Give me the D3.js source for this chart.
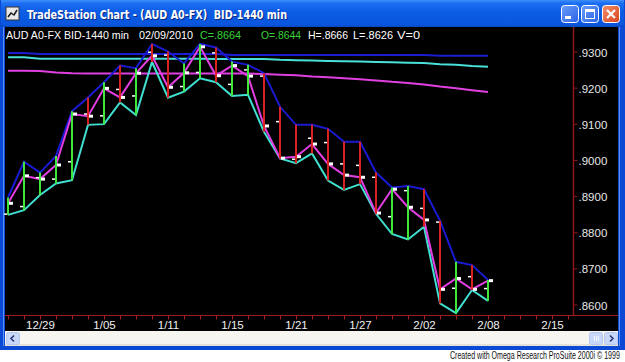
<!DOCTYPE html>
<html>
<head>
<meta charset="utf-8">
<script src="https://cdn.jsdelivr.net/npm/d3@7"></script>
<style>
  html, body { margin: 0; padding: 0; background: #fff; overflow: hidden; }
  svg { display: block; }
  text { font-family: "Liberation Sans", Arial, sans-serif; }
</style>
</head>
<body>
<div id="chart"></div>
<script>
// daily bars of AUD A0-FX (bar 0 .. bar 30)
const opens  = [.8850, .8871, .8951, .8947, .8995, .9127, .9122, .9195, .9177, .9298, .9290,
                .9203, .9242, .9296, .9209, .9249, .9232, .9106, .9002, .9060, .9048,
                .8989, .8985, .8952, .8843, .8915, .8866, .8828, .8645, .8677, .8644];
const highs  = [.8896, .8995, .8965, .9011, .9135, .9173, .9215, .9261, .9254, .9321, .9300,
                .9267, .9321, .9311, .9272, .9263, .9240, .9147, .9097, .9097, .9086,
                .9050, .9050, .8965, .8924, .8928, .8919, .8832, .8718, .8709, .8668];
const lows   = [.8848, .8861, .8903, .8935, .8944, .9097, .9099, .9159, .9124, .9271, .9172,
                .9189, .9226, .9215, .9177, .9180, .9078, .9004, .8991, .9018, .8943,
                .8917, .8933, .8851, .8795, .8780, .8815, .8603, .8576, .8640, .8610];
const closes = [.8880, .8956, .8947, .8986, .9127, .9121, .9198, .9173, .9240, .9288, .9201,
                .9241, .9313, .9233, .9261, .9232, .9094, .9005, .9009, .9044, .8989,
                .8958, .8952, .8853, .8919, .8869, .8834, .8642, .8672, .8642, .8666];
// paint bar colour, 1 = green, 0 = red
const paint  = [1, 1, 1, 1, 1, 0, 1, 0, 1, 0, 0, 1, 1, 0, 1, 1, 0, 0, 0, 0, 0,
                0, 0, 0, 1, 1, 0, 0, 1, 0, 1];

// slow averages of high, low and close
const avgHigh  = [.9296, .9296, .9293, .9293, .9293, .9293, .9293, .9293, .9293, .9293, .9293,
                  .9293, .9293, .9293, .9290, .9290, .9290, .9290, .9290, .9290, .9290,
                  .9290, .9290, .9290, .9290, .9290, .9290, .9288, .9288, .9288, .9288];
const avgLow   = [.9284, .9284, .9280, .9280, .9280, .9280, .9280, .9280, .9280, .9280, .9280,
                  .9280, .9280, .9279, .9279, .9279, .9279, .9277, .9276, .9275, .9274,
                  .9273, .9272, .9271, .9270, .9269, .9268, .9265, .9263, .9260, .9258];
const avgClose = [.9247, .9247, .9246, .9242, .9240, .9239, .9239, .9239, .9239, .9239, .9239,
                  .9239, .9239, .9239, .9239, .9239, .9238, .9236, .9234, .9231, .9229,
                  .9226, .9223, .9220, .9216, .9213, .9209, .9203, .9198, .9193, .9188];

const priceTicks = [.86, .87, .88, .89, .90, .91, .92, .93];
const dateTicks = ["12/29", "1/05", "1/11", "1/15", "1/21", "1/27", "2/02", "2/08", "2/15"];
const dateTickBars = [2, 6, 10, 14, 18, 22, 26, 30, 34];

const quote = [
  { t: "AUD A0-FX BID-1440 min", c: "#fff" },
  { t: "02/09/2010", c: "#fff" },
  { t: "C=.8664", c: "#3ad23a" },
  { t: "O=.8644", c: "#3ad23a" },
  { t: "H=.8666", c: "#fff" },
  { t: "L=.8626", c: "#fff" },
  { t: "V=0", c: "#fff" }
];

const width = 625, height = 362;
const svg = d3.select("#chart").append("svg").attr("width", width).attr("height", height);

// ---- window frame ----
const defs = svg.append("defs");
const tg = defs.append("linearGradient").attr("id", "title").attr("x1", 0).attr("y1", 0).attr("x2", 0).attr("y2", 1);
[["0%", "#3f8ff8"], ["12%", "#1c6ef2"], ["45%", "#0c5ce4"], ["90%", "#0a56de"], ["100%", "#0848c6"]]
  .forEach(([o, c]) => tg.append("stop").attr("offset", o).attr("stop-color", c));
const bg = defs.append("linearGradient").attr("id", "btn").attr("x1", 0).attr("y1", 0).attr("x2", 1).attr("y2", 1);
bg.append("stop").attr("offset", "0%").attr("stop-color", "#6a9ef8");
bg.append("stop").attr("offset", "100%").attr("stop-color", "#2a62e8");
const cg = defs.append("linearGradient").attr("id", "cls").attr("x1", 0).attr("y1", 0).attr("x2", 1).attr("y2", 1);
cg.append("stop").attr("offset", "0%").attr("stop-color", "#f0906c");
cg.append("stop").attr("offset", "100%").attr("stop-color", "#d8431c");

svg.append("rect").attr("width", width).attr("height", height).attr("fill", "#fff");
svg.append("rect").attr("x", 0).attr("y", 0).attr("width", width).attr("height", 350).attr("fill", "#0a48d6");
svg.append("rect").attr("x", 1).attr("y", 0).attr("width", width - 2).attr("height", 27).attr("fill", "url(#title)");
svg.append("rect").attr("x", 3).attr("y", 27).attr("width", 1).attr("height", 319).attr("fill", "#5a8ef0");
svg.append("rect").attr("x", 619).attr("y", 27).attr("width", 1).attr("height", 319).attr("fill", "#5a8ef0");

// icon
const icon = svg.append("g").attr("transform", "translate(6,7)");
icon.append("rect").attr("width", 13).attr("height", 13).attr("fill", "#e8e8e8").attr("stroke", "#333").attr("stroke-width", 1);
icon.append("path").attr("d", "M2,10 L5,6 L8,8 L11,3").attr("fill", "none").attr("stroke", "#1a1a1a").attr("stroke-width", 1.5);

svg.append("text").attr("x", 28).attr("y", 20).attr("fill", "#0a2a80")
  .style("font-family", "'DejaVu Sans', sans-serif").style("font-weight", "bold").style("font-size", "12.5px")
  .style("white-space", "pre").attr("textLength", 260).attr("lengthAdjust", "spacingAndGlyphs")
  .text("TradeStation Chart - (AUD A0-FX)  BID-1440 min");
svg.append("text").attr("x", 27).attr("y", 19).attr("fill", "#fff")
  .style("font-family", "'DejaVu Sans', sans-serif").style("font-weight", "bold").style("font-size", "12.5px")
  .style("white-space", "pre").attr("textLength", 260).attr("lengthAdjust", "spacingAndGlyphs")
  .text("TradeStation Chart - (AUD A0-FX)  BID-1440 min");

// caption buttons
const buttons = [{ x: 561, kind: "min" }, { x: 581, kind: "max" }, { x: 602, kind: "close" }];
buttons.forEach((b) => {
  const g = svg.append("g").attr("transform", `translate(${b.x},5)`);
  g.append("rect").attr("x", 0.5).attr("y", 0.5).attr("width", 17).attr("height", 17).attr("rx", 3)
    .attr("fill", b.kind === "close" ? "url(#cls)" : "url(#btn)").attr("stroke", "#fff").attr("stroke-width", 1);
  if (b.kind === "min") {
    g.append("rect").attr("x", 4).attr("y", 11).attr("width", 6).attr("height", 3).attr("fill", "#fff");
  } else if (b.kind === "max") {
    g.append("rect").attr("x", 4.5).attr("y", 4.5).attr("width", 9).attr("height", 9)
      .attr("fill", "none").attr("stroke", "#fff").attr("stroke-width", 1);
    g.append("rect").attr("x", 4).attr("y", 4).attr("width", 10).attr("height", 3).attr("fill", "#fff");
  } else {
    g.append("path").attr("d", "M5,5 L13,13 M13,5 L5,13").attr("stroke", "#fff").attr("stroke-width", 2.2);
  }
});

// ---- chart area ----
svg.append("rect").attr("x", 5).attr("y", 27).attr("width", 613).attr("height", 304).attr("fill", "#000");

const qPos = [6, 139, 200, 261, 308, 353, 397];
const qLen = [123, 54, 41, 40, 40, 40, 23];
quote.forEach((q, i) => {
  svg.append("text").attr("x", qPos[i]).attr("y", 39).attr("fill", q.c)
    .style("font-size", "11.5px").attr("textLength", qLen[i]).attr("lengthAdjust", "spacingAndGlyphs")
    .text(q.t);
});

const x = d3.scaleLinear().domain([0, 35]).range([8, 568]);
const y = d3.scaleLinear().domain([0.86, 0.93]).range([304.5, 51.5]);
const bars = d3.range(opens.length);

// price axis
svg.append("line").attr("x1", 573.5).attr("x2", 573.5).attr("y1", 27).attr("y2", 315)
  .attr("stroke", "#8e1616").attr("stroke-width", 1.5);
const yAxis = svg.append("g").attr("transform", "translate(573.5,0)")
  .call(d3.axisRight(y).tickValues(priceTicks).tickSize(4).tickPadding(1)
    .tickFormat((d) => d3.format(".4f")(d).slice(1)));
yAxis.select(".domain").remove();
yAxis.selectAll("line").attr("stroke", "#8e1616");
yAxis.selectAll("text").attr("fill", "#e6e6e6").style("font-size", "11.5px")
  .style("font-family", "'Liberation Sans', Arial, sans-serif").attr("dy", "0.4em");

// date axis
svg.append("line").attr("x1", 5).attr("x2", 618).attr("y1", 315.5).attr("y2", 315.5)
  .attr("stroke", "#a51c1c").attr("stroke-width", 1);
const xAxis = svg.append("g").attr("transform", "translate(0,315.5)")
  .call(d3.axisBottom(x).tickValues(d3.range(0, 36)).tickSize(4).tickPadding(1)
    .tickFormat((i) => { const k = dateTickBars.indexOf(i); return k < 0 ? "" : dateTicks[k]; }));
xAxis.select(".domain").remove();
xAxis.selectAll("line").attr("stroke", "#a51c1c");
xAxis.selectAll("text").attr("fill", "#f0f0f0").style("font-size", "11.5px")
  .style("font-family", "'Liberation Sans', Arial, sans-serif");

// slow averages
const line = (arr) => d3.line().x((i) => x(i)).y((i) => y(arr[i]))(bars);
const plot = svg.append("g");
plot.append("path").attr("d", line(avgHigh)).attr("fill", "none").attr("stroke", "#1c1cd0").attr("stroke-width", 2);
plot.append("path").attr("d", line(avgLow)).attr("fill", "none").attr("stroke", "#48e0d8").attr("stroke-width", 2);
plot.append("path").attr("d", line(avgClose)).attr("fill", "none").attr("stroke", "#e040e0").attr("stroke-width", 2);

// high / low / close lines
plot.append("path").attr("d", line(highs)).attr("fill", "none").attr("stroke", "#1a1ad2").attr("stroke-width", 2);
plot.append("path").attr("d", line(lows)).attr("fill", "none").attr("stroke", "#40e0d0").attr("stroke-width", 2);
plot.append("path").attr("d", line(closes)).attr("fill", "none").attr("stroke", "#e23ee2").attr("stroke-width", 2);

// painted bars
plot.selectAll(".bar").data(bars).enter().append("line").attr("class", "bar")
  .attr("x1", (i) => x(i)).attr("x2", (i) => x(i))
  .attr("y1", (i) => y(highs[i])).attr("y2", (i) => y(lows[i]))
  .attr("stroke", (i) => (paint[i] ? "#3ee63e" : "#d82222")).attr("stroke-width", 2);

// open / close ticks
plot.selectAll(".open").data(bars).enter().append("rect").attr("class", "open")
  .attr("x", (i) => x(i) - 4).attr("y", (i) => y(opens[i]) - 0.75)
  .attr("width", 3).attr("height", 1.5).attr("fill", "#fff");
plot.selectAll(".close").data(bars).enter().append("rect").attr("class", "close")
  .attr("x", (i) => x(i) + 1).attr("y", (i) => y(closes[i]) - 1.5)
  .attr("width", 4).attr("height", 3).attr("fill", "#fff");

// ---- scroll bar ----
svg.append("rect").attr("x", 5).attr("y", 331).attr("width", 613).attr("height", 14).attr("fill", "#f6f5f0");
svg.append("rect").attr("x", 5).attr("y", 344).attr("width", 613).attr("height", 2).attr("fill", "#e4e2d8");
const sb = [{ x: 6, kind: "left" }, { x: 589, kind: "thumb" }, { x: 604, kind: "right" }];
sb.forEach((b) => {
  const g = svg.append("g").attr("transform", `translate(${b.x},332)`);
  g.append("rect").attr("x", 0.5).attr("y", 0.5).attr("width", 13).attr("height", 12).attr("rx", 2)
    .attr("fill", "#c8d6f8").attr("stroke", "#b4c6f0");
  if (b.kind === "left") {
    g.append("path").attr("d", "M8,3.5 L5,6.5 L8,9.5").attr("fill", "none").attr("stroke", "#2a3c7a").attr("stroke-width", 1.6);
  } else if (b.kind === "right") {
    g.append("path").attr("d", "M6,3.5 L9,6.5 L6,9.5").attr("fill", "none").attr("stroke", "#2a3c7a").attr("stroke-width", 1.6);
  } else {
    [5, 7, 9].forEach((gx) => g.append("line").attr("x1", gx + 0.5).attr("x2", gx + 0.5).attr("y1", 4).attr("y2", 9)
      .attr("stroke", "#f4f7ff").attr("stroke-width", 1));
  }
});

// footer, squeezed to the narrow width of the original
const foot = svg.append("g");
const footText = foot.append("text").attr("x", 0).attr("y", 0).attr("fill", "#111").style("font-size", "11px")
  .text("Created with Omega Research ProSuite 2000i \u00a9 1999");
const fw = footText.node().getComputedTextLength();
foot.attr("transform", `translate(450,359) scale(${170 / fw},1)`);
</script>
</body>
</html>
